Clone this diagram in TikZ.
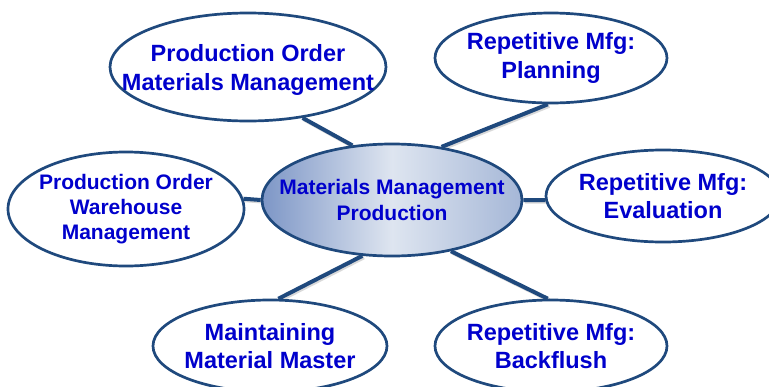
\documentclass[tikz,border=0pt]{standalone}
\usepackage{fontspec}
\setmainfont{Liberation Sans}
\usetikzlibrary{shapes.geometric}
\definecolor{navy}{RGB}{31,73,125}
\definecolor{txtblue}{RGB}{0,0,204}
\definecolor{cdark}{RGB}{125,150,198}
\definecolor{clight}{RGB}{222,229,240}
\definecolor{cmid}{RGB}{165,183,215}
\pgfdeclarelayer{bg}
\pgfsetlayers{bg,main}
\begin{document}
\begin{tikzpicture}[x=1pt,y=-1pt,
  bub/.style={ellipse, draw=navy, line width=2.7pt, fill=white,
    inner xsep=-100pt, inner ysep=-60pt, align=center, text=txtblue,
    font=\bfseries\fontsize{23.5}{28.5}\selectfont},
  hub/.style={bub, left color=cdark, right color=cmid, middle color=clight,
    font=\bfseries\fontsize{21}{25.5}\selectfont},
  small/.style={font=\bfseries\fontsize{21}{25}\selectfont},
  link/.style={draw=navy, line width=4pt,
    preaction={draw=black!15, line width=4pt, transform canvas={shift={(1.5pt,-1.5pt)}}}}]
\useasboundingbox (0,0) rectangle (769,386);
\node[hub, minimum width=260pt, minimum height=112pt] (c) at (392,200)
  {Materials Management\\Production};
\node[bub, minimum width=276pt, minimum height=108pt] (tl) at (248,67)
  {\rule{0pt}{23pt}Production Order\\Materials Management};
\node[bub, minimum width=232pt, minimum height=90pt] (tr) at (551,58)
  {Repetitive Mfg:\\Planning};
\node[bub, small, minimum width=236pt, minimum height=114pt] (l) at (126,209)
  {Production Order\\Warehouse\\Management};
\node[bub, minimum width=234pt, minimum height=92pt] (r) at (663,196)
  {Repetitive Mfg:\\Evaluation};
\node[bub, minimum width=234pt, minimum height=92pt] (bl) at (270,346)
  {Maintaining\\Material Master};
\node[bub, minimum width=232pt, minimum height=92pt] (br) at (551,346)
  {Repetitive Mfg:\\Backflush};
\begin{pgfonlayer}{bg}
\path[link] (c.126) -- (tl.-43);
\path[link] (c.47) -- (tr.-94);
\path[link] (c.180) -- (l.5);
\path[link] (c.0) -- (r.182);
\path[link] (c.-118) -- (bl.80);
\path[link] (c.-41) -- (br.94);
\end{pgfonlayer}
\end{tikzpicture}
\end{document}
